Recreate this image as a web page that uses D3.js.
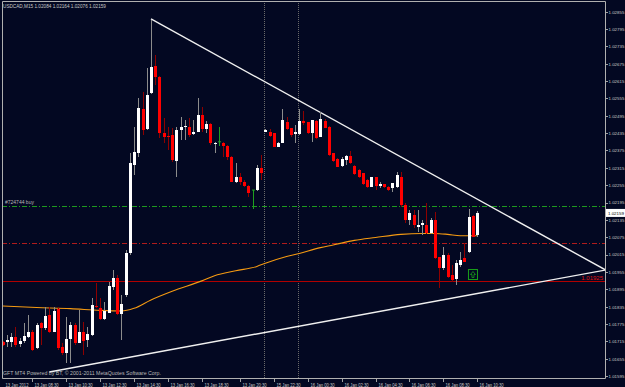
<!DOCTYPE html>
<html lang="en">
<head>
<meta charset="UTF-8">
<title>USDCAD,M15</title>
<style>
    body { margin: 0; background: #030822; }
    svg text { font-family: "Liberation Sans", Arial, sans-serif; }
    .axis path { display: none; }
    .axis line { stroke: #a0a0a0; shape-rendering: crispEdges; }
    .axis text { fill: #c8c8c8; font-size: 5.5px; }
    .yaxis text { font-size: 4.4px; }
</style>
</head>
<body>
<div id="chart"></div>
<script src="https://d3js.org/d3.v7.min.js"></script>
<script>
// USDCAD M15, 13 Jan 2012 06:45 .. 16 Jan 2012 10:30 (bar index 0..112)
var opens = [1.01714,1.01714,1.01714,1.01731,1.01706,1.01717,1.01731,1.01748,1.01691,1.01777,
    1.01760,1.01806,1.01748,1.01826,1.01694,1.01673,1.01723,1.01771,1.01710,1.01748,
    1.01719,1.01737,1.01837,1.01831,1.01791,1.01814,1.01904,1.01933,1.01809,1.01875,
    1.02019,1.02325,1.02367,1.02517,1.02448,1.02573,1.02667,1.02630,1.02434,1.02425,
    1.02429,1.02340,1.02446,1.02455,1.02457,1.02431,1.02440,1.02498,1.02449,1.02467,
    1.02396,1.02405,1.02402,1.02390,1.02354,1.02267,1.02282,1.02267,1.02252,1.02238,
    1.02237,1.02313,1.02440,1.02440,1.02434,1.02388,1.02402,1.02475,1.02452,1.02433,
    1.02432,1.02478,1.02472,1.02436,1.02477,1.02423,1.02477,1.02457,1.02365,1.02345,
    1.02321,1.02342,1.02356,1.02321,1.02308,1.02296,1.02273,1.02250,1.02282,1.02252,
    1.02259,1.02250,1.02244,1.02250,1.02284,1.02186,1.02134,1.02152,1.02111,1.02117,
    1.02117,1.02088,1.02134,1.02005,1.01967,1.02014,1.01944,1.01929,1.01979,1.02003,
    1.02025,1.02148,1.02084];
var highs = [1.01717,1.01737,1.01743,1.01765,1.01726,1.01777,1.01806,1.01754,1.01777,1.01783,
    1.01835,1.01835,1.01835,1.01835,1.01708,1.01800,1.01783,1.01777,1.01823,1.01783,
    1.01765,1.01864,1.01915,1.01864,1.01852,1.01921,1.01962,1.01944,1.01875,1.02031,
    1.02365,1.02457,1.02556,1.02578,1.02659,1.02826,1.02705,1.02634,1.02486,1.02457,
    1.02453,1.02457,1.02492,1.02480,1.02486,1.02480,1.02556,1.02526,1.02478,1.02469,
    1.02405,1.02457,1.02405,1.02394,1.02356,1.02331,1.02296,1.02273,1.02256,1.02240,
    1.02325,1.02359,1.02449,1.02448,1.02436,1.02405,1.02517,1.02492,1.02454,1.02463,
    1.02517,1.02513,1.02475,1.02481,1.02480,1.02509,1.02483,1.02458,1.02367,1.02348,
    1.02354,1.02359,1.02373,1.02325,1.02310,1.02298,1.02275,1.02284,1.02284,1.02267,
    1.02260,1.02252,1.02263,1.02302,1.02302,1.02192,1.02169,1.02169,1.02169,1.02134,
    1.02192,1.02140,1.02163,1.02008,1.02042,1.02019,1.01979,1.01996,1.02025,1.02054,
    1.02172,1.02152,1.02164];
var lows = [1.01699,1.01696,1.01696,1.01696,1.01696,1.01708,1.01725,1.01682,1.01687,1.01702,
    1.01754,1.01743,1.01746,1.01685,1.01668,1.01639,1.01639,1.01702,1.01708,1.01668,
    1.01696,1.01735,1.01829,1.01789,1.01789,1.01812,1.01892,1.01806,1.01719,1.01869,
    1.02014,1.02290,1.02354,1.02429,1.02446,1.02570,1.02602,1.02418,1.02400,1.02377,
    1.02336,1.02284,1.02411,1.02411,1.02423,1.02429,1.02438,1.02440,1.02434,1.02394,
    1.02367,1.02390,1.02354,1.02342,1.02265,1.02261,1.02256,1.02250,1.02215,1.02173,
    1.02235,1.02273,1.02439,1.02423,1.02386,1.02386,1.02400,1.02446,1.02423,1.02400,
    1.02429,1.02463,1.02432,1.02405,1.02416,1.02421,1.02452,1.02356,1.02336,1.02317,
    1.02319,1.02325,1.02328,1.02290,1.02279,1.02256,1.02244,1.02248,1.02238,1.02244,
    1.02244,1.02236,1.02232,1.02244,1.02181,1.02123,1.02117,1.02106,1.02094,1.02083,
    1.02087,1.02087,1.02001,1.01898,1.01962,1.01933,1.01921,1.01910,1.01973,1.01988,
    1.02019,1.02076,1.02076];
var closes = [1.01702,1.01719,1.01731,1.01702,1.01717,1.01734,1.01746,1.01685,1.01771,1.01760,
    1.01802,1.01748,1.01821,1.01691,1.01673,1.01723,1.01771,1.01708,1.01748,1.01717,
    1.01740,1.01840,1.01832,1.01792,1.01821,1.01906,1.01933,1.01809,1.01844,1.02019,
    1.02331,1.02371,1.02521,1.02446,1.02567,1.02665,1.02630,1.02434,1.02423,1.02421,
    1.02342,1.02446,1.02457,1.02461,1.02429,1.02440,1.02498,1.02448,1.02467,1.02400,
    1.02402,1.02405,1.02390,1.02351,1.02267,1.02282,1.02267,1.02252,1.02229,1.02238,
    1.02313,1.02298,1.02446,1.02425,1.02388,1.02400,1.02480,1.02448,1.02429,1.02438,
    1.02478,1.02469,1.02434,1.02480,1.02417,1.02483,1.02454,1.02359,1.02339,1.02319,
    1.02345,1.02356,1.02331,1.02294,1.02282,1.02259,1.02248,1.02282,1.02252,1.02259,
    1.02248,1.02238,1.02261,1.02290,1.02186,1.02134,1.02158,1.02117,1.02117,1.02123,
    1.02088,1.02134,1.02002,1.01967,1.02014,1.01938,1.01927,1.01985,1.01996,1.01989,
    1.02146,1.02077,1.02159];

// moving average (orange), read at some bars
var maBars   = [0, 8, 16, 23, 28, 31, 35, 40, 47, 50, 55, 60, 62, 67, 70, 75, 78, 83, 88, 94, 99, 102, 105, 108, 112];
var maValues = [1.01837,1.01832,1.01828,1.01822,1.01820,1.01829,1.01858,1.01888,1.01924,1.01942,1.01959,1.01974,1.01985,
    1.02008,1.02019,1.02039,1.02048,1.02064,1.02074,1.02085,1.02088,1.02088,1.02085,1.02080,1.02080];

// trend lines: two anchors [bar, price], extended to the right
var trendUpper = [[35, 1.02830], [100, 1.02304]];
var trendLower = [[11, 1.01609], [100, 1.01848]];

var buyPrice = 1.02183, buyLabel = "#724744 buy";
var stopPrice = 1.02056;
var linePrice = 1.01925;
var arrowBar = 111, arrowPrice = 1.01946;

var separatorBars = [62, 70];

var priceTicks = [1.01595,1.01655,1.01715,1.01775,1.01835,1.01895,1.01955,1.02015,1.02075,1.02135,1.02195,
    1.02255,1.02315,1.02375,1.02435,1.02495,1.02555,1.02615,1.02675,1.02735,1.02795,1.02855];
var timeBars = [0, 7, 15, 23, 31, 39, 47, 56, 64, 72, 80, 88, 96, 104, 112];
var timeLabels = ["13 Jan 2012","13 Jan 08:30","13 Jan 10:30","13 Jan 12:30","13 Jan 14:30","13 Jan 16:30",
    "13 Jan 18:30","13 Jan 20:30","15 Jan 22:30","16 Jan 00:30","16 Jan 02:30","16 Jan 04:30",
    "16 Jan 06:30","16 Jan 08:30","16 Jan 10:30"];

var W = 625, H = 387;
var box = {left: 2, right: 605, top: 1, bottom: 378};

var x = d3.scaleLinear().domain([0, 112]).range([2.7, 477.2]);
var y = d3.scaleLinear().domain([1.01595, 1.02855]).range([376, 11.7]);
var fmt = d3.format(".5f");

// narrow font like the terminal: squeeze text to a share of its natural width
function squeeze(sel, k) {
    sel.each(function () {
        var w = this.getComputedTextLength();
        d3.select(this).attr("textLength", w * k).attr("lengthAdjust", "spacingAndGlyphs");
    });
}

var svg = d3.select("#chart").append("svg")
    .attr("width", W).attr("height", H)
    .style("display", "block");

svg.append("rect").attr("width", W).attr("height", H).attr("fill", "#030822");

svg.append("defs").append("clipPath").attr("id", "plotclip")
  .append("rect")
    .attr("x", box.left).attr("y", box.top)
    .attr("width", box.right - box.left).attr("height", box.bottom - box.top);

var plot = svg.append("g").attr("clip-path", "url(#plotclip)");

function px(i) { return Math.round(x(i)) + 0.5; }

// period separators
plot.selectAll(".sep").data(separatorBars).enter().append("line")
    .attr("x1", d => px(d) - 1).attr("x2", d => px(d) - 1)
    .attr("y1", box.top).attr("y2", box.bottom)
    .attr("stroke", "#6a6a6a").attr("stroke-dasharray", "1,1")
    .attr("shape-rendering", "crispEdges");

// horizontal order / level lines
function hline(p, color, dash) {
    plot.append("line")
        .attr("x1", box.left).attr("x2", box.right)
        .attr("y1", Math.round(y(p)) + 0.5).attr("y2", Math.round(y(p)) + 0.5)
        .attr("stroke", color).attr("stroke-dasharray", dash)
        .attr("shape-rendering", "crispEdges");
}
hline(buyPrice, "#1f9a1f", "5,2,1,2");
hline(stopPrice, "#b01c1c", "5,2,1,2");
hline(linePrice, "#b00000", null);

plot.append("text")
    .attr("x", 5).attr("y", y(buyPrice) - 1.5)
    .attr("fill", "#b8b8b8").attr("font-size", "5px")
    .text(buyLabel);
plot.append("text")
    .attr("x", box.right - 2).attr("y", y(linePrice) - 1)
    .attr("text-anchor", "end")
    .attr("fill", "#e01414").attr("font-size", "6px")
    .text(fmt(linePrice));

// moving average
var ma = maBars.map((b, i) => [b, maValues[i]]);
plot.append("path")
    .datum(ma)
    .attr("fill", "none").attr("stroke", "#f59a12").attr("stroke-width", 1.1)
    .attr("d", d3.line().x(d => x(d[0])).y(d => y(d[1])).curve(d3.curveMonotoneX));

// trend lines (ray to the right edge)
function ray(pts) {
    var b0 = pts[0][0], p0 = pts[0][1], b1 = pts[1][0], p1 = pts[1][1];
    var bEnd = x.invert(box.right + 2);
    var pEnd = p0 + (p1 - p0) * (bEnd - b0) / (b1 - b0);
    plot.append("line")
        .attr("x1", x(b0)).attr("y1", y(p0))
        .attr("x2", x(bEnd)).attr("y2", y(pEnd))
        .attr("stroke", "#f0f0f0").attr("stroke-width", 1.4);
}
ray(trendUpper);
ray(trendLower);

// candles
var bars = d3.range(opens.length).map(i => ({i: i, o: opens[i], h: highs[i], l: lows[i], c: closes[i]}));
var candle = plot.selectAll(".candle").data(bars).enter().append("g").attr("class", "candle");

candle.append("line")
    .attr("x1", d => px(d.i)).attr("x2", d => px(d.i))
    .attr("y1", d => y(d.h)).attr("y2", d => y(d.l))
    .attr("stroke", d => d.c > d.o ? "#8c8c8c" : d.c < d.o ? "#8e0000" : "#1fa01f")
    .attr("shape-rendering", "crispEdges");

candle.filter(d => d.c !== d.o).append("rect")
    .attr("x", d => px(d.i) - 1.5)
    .attr("width", 3)
    .attr("y", d => y(Math.max(d.o, d.c)))
    .attr("height", d => Math.max(1, Math.abs(y(d.o) - y(d.c))))
    .attr("fill", d => d.c > d.o ? "#ffffff" : "#ff0000")
    .attr("shape-rendering", "crispEdges");

candle.filter(d => d.c === d.o).append("line")
    .attr("x1", d => px(d.i) - 1.5).attr("x2", d => px(d.i) + 1.5)
    .attr("y1", d => y(d.o)).attr("y2", d => y(d.o))
    .attr("stroke", "#1fa01f");

// buy arrow icon
var ax = x(arrowBar), ay = y(arrowPrice);
var icon = plot.append("g").attr("transform", `translate(${ax},${ay})`);
icon.append("rect").attr("x", -4.5).attr("y", -5).attr("width", 9).attr("height", 10)
    .attr("fill", "none").attr("stroke", "#1aa01a");
icon.append("path").attr("d", "M0,-3 L2.5,0 L1,0 L1,3 L-1,3 L-1,0 L-2.5,0 Z")
    .attr("fill", "none").attr("stroke", "#1aa01a").attr("stroke-width", 0.8);

// frame
svg.append("path")
    .attr("d", `M${box.left + 0.5},${box.top + 0.5} H${box.right + 0.5} V${box.bottom + 0.5} H${box.left + 0.5} Z`)
    .attr("fill", "none").attr("stroke", "#b0b0b0");

// price axis
svg.append("g")
    .attr("class", "axis yaxis")
    .attr("transform", `translate(${box.right + 0.5},0)`)
    .call(d3.axisRight(y).tickValues(priceTicks).tickFormat(fmt).tickSize(2).tickPadding(1));

// current price marker
var last = bars[bars.length - 1];
svg.append("rect")
    .attr("x", box.right + 1).attr("y", y(last.c) - 4).attr("width", 19).attr("height", 8)
    .attr("fill", "#ffffff");
svg.append("text")
    .attr("x", box.right + 3).attr("y", y(last.c) + 1.6)
    .attr("fill", "#000000").attr("font-size", "4.4px")
    .text(fmt(last.c));

// time axis
var xa = svg.append("g")
    .attr("class", "axis")
    .attr("transform", `translate(0,${box.bottom + 0.5})`)
    .call(d3.axisBottom(x).tickValues(timeBars).tickFormat((d, i) => timeLabels[i]).tickSize(3).tickPadding(2));
xa.selectAll(".tick").attr("transform", d => `translate(${px(d)},0)`);
xa.selectAll(".tick text").attr("text-anchor", "start").attr("x", 2).attr("dy", "0.55em");
xa.selectAll(".tick").filter(d => d === 0).select("line").remove();
squeeze(xa.selectAll(".tick text"), 0.76);

// header and footer text
svg.append("text")
    .attr("x", 3).attr("y", 8)
    .attr("fill", "#c8c8c8").attr("font-size", "5.5px")
    .text(`USDCAD,M15  ${fmt(last.o)} ${fmt(last.h)} ${fmt(last.l)} ${fmt(last.c)}`)
    .call(squeeze, 0.85);
svg.append("text")
    .attr("x", 3).attr("y", box.bottom - 3)
    .attr("fill", "#b8b8b8").attr("font-size", "5.5px")
    .text("GFT MT4 Powered by BT, \u00a9 2001-2011 MetaQuotes Software Corp.")
    .call(squeeze, 0.95);
</script>
</body>
</html>
